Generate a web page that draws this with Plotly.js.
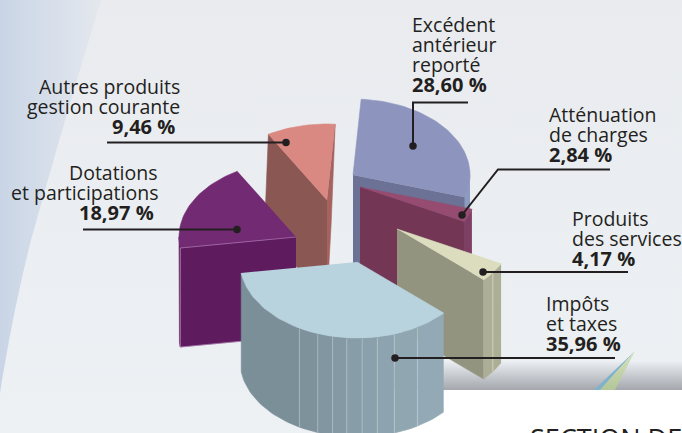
<!DOCTYPE html>
<html><head><meta charset="utf-8">
<script src="https://cdn.plot.ly/plotly-3.0.1.min.js"></script>
<style>html,body{margin:0;padding:0;background:#fff;overflow:hidden}#chart{width:682px;height:433px}</style>
</head><body><div id="chart"></div>
<script>
// ---- data ----
const categories = ["Excédent antérieur reporté","Atténuation de charges","Produits des services","Impôts et taxes","Dotations et participations","Autres produits gestion courante"];
const values = [28.60, 2.84, 4.17, 35.96, 18.97, 9.46];
const labelLines = [["Excédent","antérieur","reporté"],["Atténuation","de charges"],["Produits","des services"],["Impôts","et taxes"],["Dotations","et participations"],["Autres produits","gestion courante"]];

// ---- styling & geometry of the exploded pie ----
const startAngle = 274, RX = 117, RY = 76, DEPTH = 99;
const apex = [[353,175],[360,187],[397,229],[357,262],[296,237],[327,200]];
const rimBottomSkew = [0,0,0,0,0,-4];
const drawOrder = [5,4,0,1,2,3];
const topCol   = ["#8d95be","#964b70","#dcddbf","#b8d3de","#722a73","#da8882"];
const startCol = ["#6b7296","#733655","#929480","#8da4b0","#5e1c5f","#8b5753"];
const endCol   = ["#6b7296","#733655","#929480","#8da4b0","#5e1c5f","#a5625f"];
const rimCol   = ["#8c9cc0","#7d3f63","#adae96","#8da4b0","#5e1c5f","#a5625f"];
const impotRimBreaks = [58.9,71.4,80,87.5,95,102,109.6,119.5];
const leaders = [
  [[413,146],[413,102.5],[468,102.5]],
  [[462,215],[498,169.5],[610,169.5]],
  [[483,272],[628,272]],
  [[395,358],[615,358]],
  [[237,229.5],[83,229.5]],
  [[286,142.5],[107,142.5]]
];
// label: anchor x, alignment, first line centre y, pct anchor x
const labelPos = [
  {x:412,a:"left", y:24, px:412},
  {x:549,a:"left", y:114,px:549},
  {x:572,a:"left", y:218,px:572},
  {x:546,a:"left", y:303,px:546},
  {x:158,a:"right",y:172,px:154},
  {x:180,a:"right",y:86, px:175}
];
const INK = "#231f20", FONT = "Open Sans, sans-serif", FS = 19.5, FSB = 20, PITCH = 20;

// ---- geometry ----
const total = values.reduce((a,b)=>a+b,0);
let acc = startAngle;
const sweep = values.map(v=>{const a=acc; acc+=v/total*360; return [a,acc];});
const rad = d=>d*Math.PI/180;
const pt = (i,t,dz)=>[apex[i][0]+RX*Math.cos(rad(t)), apex[i][1]+RY*Math.sin(rad(t))+(dz||0)];
const traces = [];
function poly(pts,col){
  traces.push({type:"scatter",mode:"lines",x:pts.map(p=>p[0]),y:pts.map(p=>p[1]),fill:"toself",fillcolor:col,
    line:{color:col,width:0.6},hoverinfo:"skip",showlegend:false});
}
function edge(pts,col,w){
  traces.push({type:"scatter",mode:"lines",x:pts.map(p=>p[0]),y:pts.map(p=>p[1]),line:{color:col,width:w||1},hoverinfo:"skip",showlegend:false});
}
function arc(i,a,b,dz){const n=Math.max(2,Math.ceil(Math.abs(b-a)/2)),o=[];for(let k=0;k<=n;k++)o.push(pt(i,a+(b-a)*k/n,dz));return o;}
function rim(i,a,b,col){poly(arc(i,a,b,0).concat(arc(i,b,a,DEPTH)),col);}
function radial(i,t,col){
  const c=apex[i],p=pt(i,t,0);
  poly([c,p,[p[0]+rimBottomSkew[i],p[1]+DEPTH],[c[0],c[1]+DEPTH]],col);
}
function mix(c1,c2,f){const h=s=>[1,3,5].map(k=>parseInt(s.substr(k,2),16));const A=h(c1),B=h(c2);
  return "rgb("+A.map((v,k)=>Math.round(v+(B[k]-v)*f)).join(",")+")";}

drawOrder.forEach(i=>{
  let [a,b]=sweep[i];
  const ca=Math.cos(rad(a)), cb=Math.cos(rad(b));
  if(ca<0) radial(i,a,startCol[i]);
  if(cb>0) radial(i,b,endCol[i]);
  // visible outer wall: the part of the arc on the viewer's side
  const a2=a%360, b2=a2+(b-a);
  [[a2,b2],[a2-360,b2-360],[a2+360,b2+360]].forEach(([p,q])=>{
    const lo=Math.max(p,0), hi=Math.min(q,180);
    if(hi>lo){
      if(i===3){
        const br=[lo].concat(impotRimBreaks,[hi]);
        for(let k=0;k<br.length-1;k++) rim(i,br[k],br[k+1],mix("#93aab6","#7b8f98",k/(br.length-2)));
        impotRimBreaks.forEach(t=>edge([pt(i,t,1),pt(i,t,DEPTH)],"rgba(255,255,255,0.28)",1));
      } else {
        rim(i,lo,hi,rimCol[i]);
      }
    }
  });
  poly([apex[i]].concat(arc(i,a,b,0)),topCol[i]);
  if(i===4){
    const p=pt(i,a,0),c=apex[i];
    edge([p,c],"rgba(190,140,195,0.55)",1);
    edge([p,[p[0],p[1]+DEPTH]],"rgba(200,160,205,0.6)",1);
    edge([[p[0],p[1]+DEPTH],[c[0],c[1]+DEPTH]],"rgba(200,160,205,0.5)",1);
  }
  if(i===2){const t=35;edge([pt(i,t,1),pt(i,t,DEPTH)],"rgba(255,255,240,0.45)",1);}
});

// leader lines and their dots
leaders.forEach(L=>{
  traces.push({type:"scatter",mode:"lines",x:L.map(p=>p[0]),y:L.map(p=>p[1]),line:{color:INK,width:2},hoverinfo:"skip",showlegend:false});
  traces.push({type:"scatter",mode:"markers",x:[L[0][0]],y:[L[0][1]],marker:{color:INK,size:7.5},hoverinfo:"skip",showlegend:false});
});

// labels
const annotations=[];
labelLines.forEach((lines,i)=>{
  const P=labelPos[i];
  lines.forEach((s,k)=>annotations.push({xref:"x",yref:"y",x:P.x,y:P.y+k*PITCH,text:s,showarrow:false,xanchor:P.a,yanchor:"middle",
    borderpad:0,borderwidth:0,font:{family:FONT,size:FS,color:INK}}));
  annotations.push({xref:"x",yref:"y",x:P.px,y:P.y+lines.length*PITCH,text:"<b>"+values[i].toFixed(2).replace(".",",")+" %</b>",showarrow:false,
    xanchor:P.a,yanchor:"middle",borderpad:0,borderwidth:0,font:{family:FONT,size:FSB,color:INK}});
});
annotations.push({xref:"x",yref:"y",x:530,y:420,text:"SECTION DE",showarrow:false,xanchor:"left",yanchor:"top",borderpad:0,borderwidth:0,
  font:{family:FONT,size:27,color:INK}});

// backdrop
const bg = `<svg xmlns="http://www.w3.org/2000/svg" width="682" height="433" viewBox="0 0 682 433">
<defs>
<linearGradient id="a" x1="0" y1="0" x2="0" y2="1"><stop offset="0" stop-color="#e9ebef"/><stop offset="1" stop-color="#edf1f4"/></linearGradient>
<linearGradient id="b" x1="0" y1="0" x2="1" y2="0"><stop offset="0" stop-color="#c9d5e6"/><stop offset="1" stop-color="#e4e8ee"/></linearGradient>
<linearGradient id="c" x1="0" y1="0" x2="0" y2="1"><stop offset="0" stop-color="#e9ecf0"/><stop offset="1" stop-color="#a2a5ab"/></linearGradient>
<linearGradient id="d" x1="0" y1="0" x2="0" y2="1"><stop offset="0" stop-color="#d5e2bd"/><stop offset="1" stop-color="#b3c698"/></linearGradient>
</defs>
<rect width="682" height="433" fill="url(#a)"/>
<path d="M0 0H101C75 85 52 165 31 240C16 300 8 345 0 393Z" fill="url(#b)"/>
<rect x="380" y="362" width="302" height="28.5" fill="url(#c)"/>
<rect x="380" y="390" width="302" height="43" fill="#fff"/>
<path d="M635 351L594 390H600Z" fill="#7fb3cc"/>
<path d="M635 351L600 390H615Z" fill="url(#d)"/>
</svg>`;

const layout = {
  width:682,height:433,margin:{l:0,r:0,t:0,b:0,pad:0},showlegend:false,
  paper_bgcolor:"#edf1f4",plot_bgcolor:"rgba(0,0,0,0)",
  xaxis:{range:[0,682],visible:false,fixedrange:true},
  yaxis:{range:[433,0],visible:false,fixedrange:true},
  images:[{source:"data:image/svg+xml;charset=utf-8,"+encodeURIComponent(bg),xref:"x",yref:"y",x:0,y:0,sizex:682,sizey:433,
    sizing:"stretch",xanchor:"left",yanchor:"top",layer:"below"}],
  annotations
};
Plotly.newPlot("chart",traces,layout,{displayModeBar:false,staticPlot:true});
</script></body></html>
